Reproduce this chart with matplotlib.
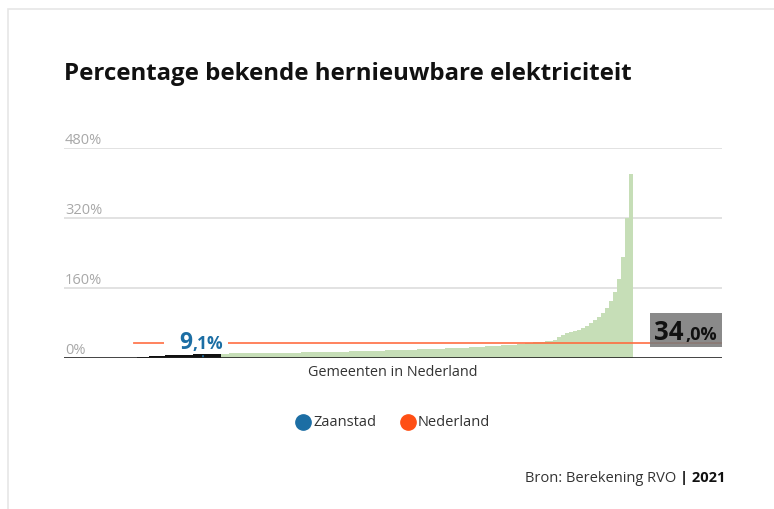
import numpy as np
import matplotlib.pyplot as plt
from matplotlib.patches import Rectangle
from matplotlib.lines import Line2D

plt.rcParams['font.family'] = ['Open Sans', 'DejaVu Sans']

# gemeenten onder (en t/m) Zaanstad, oplopend gesorteerd
low_values = [1.5, 2.5, 3.2, 3.8, 4.5, 5.0, 5.5, 6.0, 6.4, 6.8, 7.2,
              7.5, 7.8, 8.0, 8.3, 8.5, 8.8, 9.1, 9.3, 9.5, 9.7]
# overige gemeenten
high_values = [10.0, 10.2, 10.3, 10.4, 10.5, 10.6, 10.7, 10.8, 10.9,
               11.0, 11.1, 11.2, 11.3, 11.4, 11.5, 11.6, 11.8, 12.0, 12.2,
               12.4, 12.6, 12.8, 13.0, 13.2, 13.4, 13.6, 13.8, 14.0, 14.2,
               14.4, 14.6, 14.8, 15.0, 15.2, 15.4, 15.6, 15.8, 16.0, 16.3,
               16.6, 16.9, 17.2, 17.5, 17.8, 18.1, 18.4, 18.7, 19.0, 19.3,
               19.6, 19.9, 20.2, 20.5, 20.8, 21.1, 21.4, 21.8, 22.2, 22.6,
               23.0, 23.5, 24.0, 24.5, 25.0, 25.5, 26.0, 26.5, 27.0, 27.5,
               28.0, 28.6, 29.2, 29.8, 30.5,
               31.5, 32.5, 33.5, 34.5, 35.5, 36.5, 37.5, 38.5, 40.0, 42.0,
               48, 53, 57, 60, 62, 65, 69, 74, 80, 86, 93, 102, 114, 130,
               152, 180, 230, 320, 420]
zaanstad_index = 16
zaanstad_value = 9.1
nederland_value = 34.0
y_ticks = [0, 160, 320, 480]
y_labels = ['0%', '160%', '320%', '480%']

BLUE = '#1c6ea4'
ORANGE = '#ff4f14'

fig = plt.figure(figsize=(7.74, 5.09), dpi=100)
fig.patches.append(Rectangle((8 / 774, -0.1), 1.2, (509 - 9) / 509 + 0.1,
                             transform=fig.transFigure, facecolor='white',
                             edgecolor='#e6e6e6', linewidth=1.2, zorder=-1))

ax = fig.add_axes([64 / 774, 151 / 509, 658 / 774, 210 / 509])
ax.set_xlim(-18.25, 146.25)
ax.set_ylim(0, 480)

n_low = len(low_values)
n_high = len(high_values)
x_low = np.arange(n_low + 1)
x_high = np.arange(n_low, n_low + n_high + 1)
ax.fill_between(x_low, low_values + [low_values[-1]], step='post',
                color='#111111', lw=0, zorder=2)
ax.fill_between(x_high, high_values + [high_values[-1]], step='post',
                color='#c6deb7', lw=0, zorder=2)

# Zaanstad streepje
ax.plot([zaanstad_index + 0.5] * 2, [0, zaanstad_value * 0.6], color=BLUE,
        lw=1.2, zorder=3)

for t in y_ticks[1:]:
    ax.axhline(t, color='#dddddd', lw=1.2, zorder=0)
for t, lab in zip(y_ticks, y_labels):
    ax.text(-18.0, t + 1, lab, ha='left', va='bottom', fontsize=10.5,
            color='#a8a8a8')

# Nederland lijn
ax.plot([-0.75, 146.25], [nederland_value] * 2, color='#ff6a3d', lw=1.3,
        alpha=0.9, zorder=4)

ax.axhline(0, color='#222222', lw=1.2, zorder=5)
for s in ax.spines.values():
    s.set_visible(False)
ax.set_xticks([])
ax.set_yticks([])
ax.patch.set_alpha(0)

# label Zaanstad
fig.patches.append(Rectangle((164 / 774, 1 - 351 / 509), 64 / 774, 18 / 509,
                             transform=fig.transFigure, facecolor='white',
                             edgecolor='none', zorder=5))
fig.text(179 / 774, 1 - 349 / 509, '9', fontsize=16.5, fontweight='bold',
         color=BLUE, va='baseline', ha='left', zorder=6)
fig.text(192 / 774, 1 - 349 / 509, ',1%', fontsize=12.5, fontweight='bold',
         color=BLUE, va='baseline', ha='left', zorder=6)

# label Nederland
fig.patches.append(Rectangle((650 / 774, 1 - 347 / 509), 72 / 774, 34 / 509,
                             transform=fig.transFigure, facecolor='#7a7a7a',
                             edgecolor='none', alpha=0.88, zorder=5))
fig.text(654 / 774, 1 - 340 / 509, '34', fontsize=18.5, fontweight='bold',
         color='#111111', va='baseline', ha='left', zorder=6)
fig.text(685 / 774, 1 - 340 / 509, ',0%', fontsize=13, fontweight='bold',
         color='#111111', va='baseline', ha='left', zorder=6)

fig.text(64 / 774, 1 - 74 / 509, 'Percentage bekende hernieuwbare elektriciteit',
         fontsize=17.3, fontweight='bold', color='#111111', va='center',
         ha='left')
fig.text(393 / 774, 1 - 373 / 509, 'Gemeenten in Nederland', fontsize=10.4,
         color='#333333', ha='center', va='center')

# legenda
fig.add_artist(Line2D([303 / 774], [1 - 422 / 509], marker='o', markersize=11,
                      color=BLUE, transform=fig.transFigure))
fig.text(313 / 774, 1 - 422 / 509, 'Zaanstad', fontsize=10.5, color='#333333',
         va='center', ha='left')
fig.add_artist(Line2D([408 / 774], [1 - 422 / 509], marker='o', markersize=11,
                      color=ORANGE, transform=fig.transFigure))
fig.text(418 / 774, 1 - 422 / 509, 'Nederland', fontsize=10.5, color='#333333',
         va='center', ha='left')

# bron
fig.text(680 / 774, 1 - 478 / 509, 'Bron: Berekening RVO ', fontsize=10.5,
         color='#333333', va='center', ha='right')
fig.text(680 / 774, 1 - 478 / 509, '| 2021', fontsize=10.5, fontweight='bold',
         color='#111111', va='center', ha='left')

fig.savefig('out.png', dpi=100)
